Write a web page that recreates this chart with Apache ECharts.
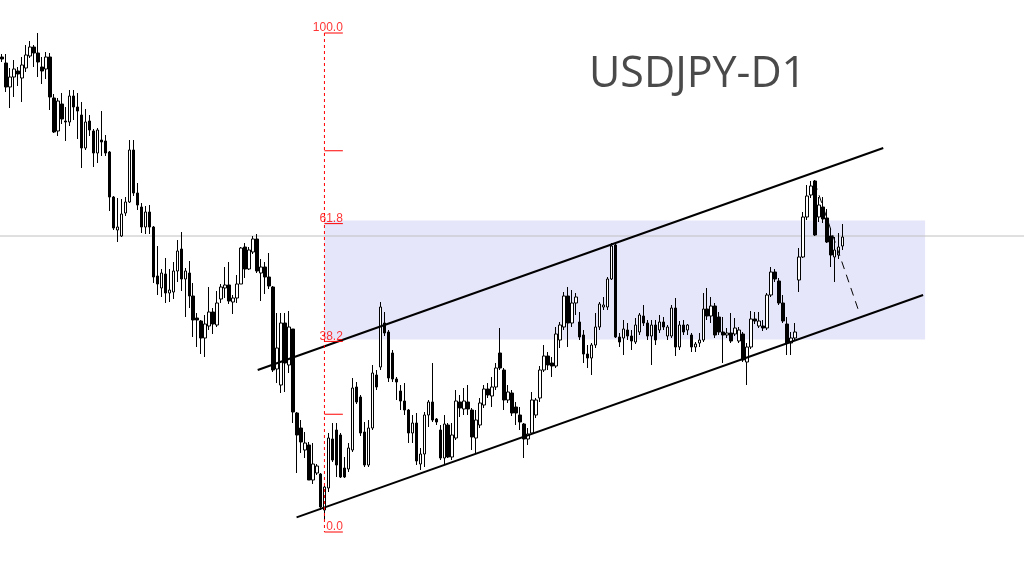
<!DOCTYPE html>
<html><head><meta charset="utf-8">
<script src="https://cdn.jsdelivr.net/npm/echarts@6/dist/echarts.min.js"></script>
<style>html,body{margin:0;padding:0;background:#fff}#c{width:1024px;height:565px}</style>
</head><body><div id="c"></div>
<script>
const opens=[157.15,156.85,155.65,156.15,156.45,156.1,156.6,157.2,157.65,157.35,
156.65,156.55,157.15,155.1,153.45,154.8,153.95,153.9,155.2,154.65,
154.25,152.6,153.95,153.45,152.35,153.0,152.95,152.4,150.15,148.5,
148.2,149.35,149.9,152.5,150.35,149.65,148.65,149.4,148.65,146.2,
145.6,146.3,145.35,145.4,146.45,147.55,146.05,146.35,145.2,144.1,
143.95,143.1,143.7,144.4,143.75,145.05,145.6,145.75,144.9,145.1,
145.8,147.65,146.55,147.4,148.05,146.35,146.65,146.15,145.65,141.55,
140.75,143.85,141.75,143.55,139.35,138.6,137.5,137.75,136.0,136.35,
136.3,134.5,135.6,138.05,138.5,138.25,136.6,136.55,137.5,140.65,
140.15,138.4,136.75,138.6,141.25,141.65,143.85,143.4,142.35,141.05,
140.45,139.95,139.5,138.35,138.85,136.8,137.3,139.25,139.9,139.05,
138.5,137.1,138.75,137.15,138.1,139.9,139.55,139.9,139.5,138.1,
138.75,139.75,140.55,140.2,140.65,142.35,141.5,140.0,140.35,139.65,
139.25,138.8,138.05,138.35,139.25,140.1,141.5,142.2,141.85,141.7,
143.0,143.65,145.2,143.85,144.85,143.9,143.25,142.3,142.1,142.75,
143.65,144.65,144.65,146.05,147.75,143.15,143.1,143.5,143.2,142.9,
143.4,144.2,143.85,143.2,143.75,143.5,143.9,143.2,143.2,144.6,
142.65,143.75,143.5,143.25,142.65,142.85,143.0,144.55,144.2,144.7,
144.15,143.4,143.25,143.35,143.3,142.95,143.3,141.9,142.65,144.05,
143.7,143.7,143.6,145.25,146.4,145.95,144.85,143.8,142.85,143.1,
146.0,147.15,149.15,150.25,150.95,149.15,149.65,149.1,148.2,147.15,
147.25,147.7];
const closes=[157.05,155.65,156.15,156.55,156.3,156.75,157.25,157.65,157.35,156.9,
156.45,157.15,155.15,153.4,154.95,154.05,153.9,155.2,154.65,154.45,
152.6,153.9,153.5,152.35,153.5,152.9,152.35,150.15,148.6,148.65,
149.3,149.9,152.5,150.35,149.75,148.65,149.4,148.65,146.15,145.8,
146.35,145.35,145.5,146.45,147.45,146.05,146.45,145.2,144.0,144.0,
143.1,143.8,144.4,143.8,144.85,145.65,145.75,144.95,145.1,145.8,
147.6,146.55,147.5,148.05,146.45,146.65,146.15,145.7,141.5,142.6,
143.85,141.85,143.65,139.4,138.25,137.9,137.85,136.0,136.8,136.7,
134.65,135.65,138.1,137.0,136.75,136.15,136.15,137.6,140.6,139.9,
138.35,136.75,138.6,141.35,140.65,144.65,143.35,141.1,141.05,140.9,
139.95,139.5,138.35,138.85,136.95,137.3,139.25,139.9,139.0,138.9,
137.1,138.8,137.15,138.25,139.95,139.6,139.95,139.55,138.15,139.0,
139.85,140.55,140.25,140.65,141.6,141.6,140.0,140.4,139.35,139.35,
138.9,138.05,138.3,140.0,140.0,141.5,142.2,141.75,141.7,143.3,
143.75,145.2,143.85,144.85,145.15,143.15,142.3,142.1,142.75,143.65,
144.8,144.75,146.05,147.7,143.15,142.9,143.55,143.2,142.95,143.75,
144.25,143.85,143.2,143.75,143.0,143.9,143.65,143.65,144.6,142.65,
143.75,143.4,143.75,142.65,142.8,143.0,144.55,144.2,144.7,143.25,
143.4,143.25,143.35,142.95,143.6,143.5,142.0,142.65,144.05,143.95,
143.95,143.6,145.25,146.4,146.05,144.85,143.95,142.85,143.1,143.4,
147.15,149.15,150.2,150.7,148.25,149.75,149.05,147.9,147.25,147.5,
147.65,148.15];
const lows=[156.9,155.4,154.6,155.15,155.7,154.9,156.4,157.1,156.65,156.15,
155.8,156.05,154.5,153.35,153.2,153.8,152.95,153.7,154.0,153.05,
151.6,152.5,153.2,151.65,151.85,152.2,152.2,149.45,148.5,147.9,
148.15,149.2,149.85,150.2,149.5,148.35,148.3,148.3,145.85,145.25,
145.15,144.85,144.9,145.05,145.9,145.45,144.15,144.6,143.15,142.65,
142.3,142.15,143.5,143.3,143.65,144.85,145.1,144.8,144.3,144.85,
145.8,146.1,146.5,147.3,146.35,144.95,145.3,145.55,141.4,140.85,
140.35,140.4,141.35,138.85,136.35,137.35,137.1,136.0,135.8,136.25,
134.5,134.0,135.4,136.9,136.15,136.1,136.1,136.4,137.4,139.8,
138.2,136.65,136.65,138.5,140.5,141.5,143.2,140.9,140.9,140.0,
139.5,139.25,137.85,137.85,136.75,136.5,136.65,138.65,138.9,138.75,
137.0,136.75,137.1,137.0,138.0,139.15,139.25,139.25,137.5,137.35,
138.6,139.6,140.1,139.65,140.5,141.5,139.5,139.85,139.2,138.75,
138.5,137.1,137.75,138.3,139.1,139.9,141.4,141.5,141.15,141.6,
142.6,143.5,142.65,143.65,144.25,143.0,141.85,141.6,141.25,142.6,
143.5,144.5,144.5,146.0,143.1,142.65,142.25,143.0,142.5,142.8,
143.25,143.7,143.0,141.75,142.75,143.35,143.5,143.0,143.1,142.2,
142.5,143.25,143.25,142.4,142.4,142.65,142.9,144.0,143.85,143.1,
143.25,141.85,143.1,142.85,143.2,142.85,141.9,140.75,142.55,143.8,
143.6,143.45,143.5,145.15,145.9,144.75,143.85,142.25,142.25,142.95,
145.4,147.1,149.0,150.1,148.2,148.9,148.85,147.85,146.65,145.9,
147.05,147.5];
const highs=[157.3,157.3,156.6,157.0,156.65,157.15,157.75,157.95,157.75,158.35,
157.15,157.4,157.35,155.3,155.1,155.35,154.65,155.5,155.5,155.35,
154.9,154.55,154.25,153.55,153.6,154.45,153.25,152.45,150.2,150.1,
150.05,150.15,153.0,153.0,150.85,149.85,149.7,149.75,148.7,147.7,
146.55,147.1,146.55,146.9,148.0,148.4,146.6,146.95,145.85,144.35,
144.0,144.25,145.65,144.6,145.45,145.8,146.65,146.9,145.25,146.25,
147.65,147.85,147.65,148.2,148.3,147.05,146.9,147.35,145.7,144.35,
144.35,144.35,144.45,143.55,139.4,139.0,138.4,137.9,137.85,136.8,
136.35,135.7,138.35,138.85,138.85,138.35,137.15,137.85,141.1,140.9,
140.25,138.9,139.0,141.75,141.5,144.9,144.4,143.5,142.5,141.15,
140.75,140.85,139.55,139.25,139.35,137.6,139.4,140.0,141.85,139.1,
138.75,139.25,138.85,138.85,140.5,140.25,140.6,140.75,139.6,139.5,
140.1,140.75,140.85,141.15,141.85,143.6,141.6,140.75,140.5,139.9,
139.65,138.85,138.6,140.4,140.1,141.7,142.75,142.4,142.15,143.65,
143.9,145.4,145.65,145.5,145.35,144.4,143.5,142.75,142.85,144.35,
144.9,145.15,146.15,147.85,147.85,143.35,144.0,143.85,143.5,144.1,
144.35,144.75,144.0,144.0,144.0,144.25,144.15,143.75,144.75,145.1,
143.95,144.0,143.8,143.35,142.9,143.35,145.35,145.6,145.15,144.85,
144.4,144.15,143.6,144.35,144.1,143.65,143.4,142.85,144.45,144.4,
144.4,144.0,145.35,146.65,146.55,146.1,145.25,144.15,143.4,143.85,
147.6,149.4,150.75,150.95,151.0,150.15,150.15,149.55,148.6,148.15,
148.35,148.8];

const slotCount = 257;
const categories = Array.from({length: slotCount}, (_, i) => 'D' + (i + 1));

const fibLevels = [0, 23.6, 38.2, 61.8, 76.4, 100];
const fibLabels = ['0.0', '', '38.2', '61.8', '', '100.0'];
const fibHigh = 158.35, fibLow = 133.40;
const fibStart = 80.93, fibEnd = 85.55;

const upperChannel = [[64.18, 141.5], [221.18, 152.6]];
const lowerChannel = [[73.93, 134.13], [231.18, 145.25]];
const projection = [[203.93, 150.9], [214.93, 144.5]];
const zoneTop = 148.97, zoneBottom = 143.03, zoneStart = 80.93, zoneEnd = 231.68;
const refPrice = 148.2;
const titleText = 'USDJPY-D1';

const candleData = opens.map((o, i) => [o, closes[i], lows[i], highs[i]]);
const fibPrice = l => fibLow + (fibHigh - fibLow) * l / 100;

const series = [];
series.push({
  type: 'line', xAxisIndex: 1, z: 0, silent: true, symbol: 'none',
  data: [[zoneStart, zoneTop], [zoneEnd, zoneTop]],
  lineStyle: {opacity: 0},
  markArea: {silent: true, itemStyle: {color: '#e6e6fa'},
    data: [[{coord: [zoneStart, zoneTop]}, {coord: [zoneEnd, zoneBottom]}]]}
});
series.push({
  type: 'line', xAxisIndex: 1, z: 1, silent: true, symbol: 'none',
  data: [[-0.5, refPrice], [256.5, refPrice]],
  lineStyle: {color: '#c0c0c0', width: 1}
});
series.push({
  type: 'candlestick', xAxisIndex: 0, z: 2, barWidth: 3,
  data: candleData,
  itemStyle: {color: '#ffffff', color0: '#000000', borderColor: '#000000', borderColor0: '#000000', borderWidth: 1}
});
[upperChannel, lowerChannel].forEach(d => series.push({
  type: 'line', xAxisIndex: 1, z: 3, silent: true, symbol: 'none', data: d,
  lineStyle: {color: '#000', width: 2}
}));
series.push({
  type: 'line', xAxisIndex: 1, z: 3, silent: true, symbol: 'none', data: projection,
  lineStyle: {color: '#000', width: 1, type: [8, 6]}
});
series.push({
  type: 'line', xAxisIndex: 1, z: 4, silent: true, symbol: 'none',
  data: [[fibStart, fibHigh], [fibStart, fibLow]],
  lineStyle: {color: '#ff0000', width: 1, type: [3, 3]}
});
fibLevels.forEach(l => series.push({
  type: 'line', xAxisIndex: 1, z: 4, silent: true, symbol: 'none',
  data: [[fibStart, fibPrice(l)], [fibEnd, fibPrice(l)]],
  lineStyle: {color: '#ff0000', width: 1}
}));
series.push({
  type: 'scatter', xAxisIndex: 1, z: 5, silent: true, symbolSize: 0,
  data: fibLevels.map((l, i) => [fibEnd, fibPrice(l), fibLabels[i]]).filter(d => d[2]),
  label: {show: true, position: 'top', distance: -1, align: 'right', lineHeight: 12,
    formatter: p => p.data[2], color: '#ff0000', fontSize: 12, fontFamily: 'Liberation Sans'}
});

const chart = echarts.init(document.getElementById('c'), null, {renderer: 'canvas'});
chart.setOption({
  animation: false,
  backgroundColor: '#ffffff',
  title: {text: titleText, left: 584, top: 48,
    textStyle: {fontSize: 43, fontWeight: 'normal', color: '#4a4a4a', fontFamily: 'Open Sans'}},
  grid: {left: -2.7, right: -1.3, top: 0, bottom: 0, containLabel: false},
  xAxis: [
    {type: 'category', data: categories, boundaryGap: true, show: false},
    {type: 'value', min: -0.5, max: slotCount - 0.5, show: false}
  ],
  yAxis: {type: 'value', min: 131.75, max: 160, show: false, scale: true},
  series: series
});
</script></body></html>
